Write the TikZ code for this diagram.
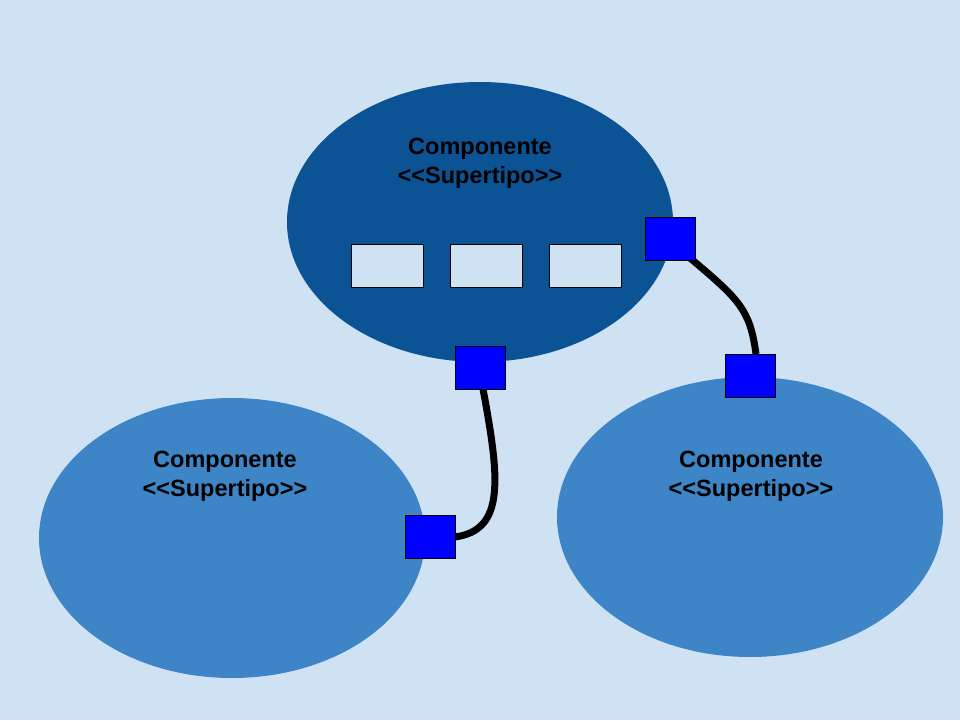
\documentclass[tikz,border=0pt]{standalone}
\usepackage{fontspec}
\usetikzlibrary{shapes.geometric}
\newfontfamily\lab{Liberation Sans}
\definecolor{bg}{HTML}{CFE2F3}
\definecolor{dark}{HTML}{0B5394}
\definecolor{mid}{HTML}{3D85C6}
\definecolor{port}{HTML}{0000FF}
\begin{document}
\begin{tikzpicture}[x=1pt,y=-1pt,
  comp/.style={ellipse, minimum width=386pt, minimum height=280pt, inner sep=0pt},
  slot/.style={draw=black, line width=1pt, fill=bg, minimum width=72pt, minimum height=43pt, inner sep=0pt},
  portbox/.style={draw=black, line width=1pt, fill=port, minimum width=50pt, minimum height=43pt, inner sep=0pt},
  lbl/.style={font=\lab\bfseries\fontsize{23.5}{29}\selectfont, align=center, text=black},
  wire/.style={line width=7pt, black}]
\useasboundingbox (0,0) rectangle (960,720);
\fill[bg] (0,0) rectangle (960,720);
\node[comp, fill=dark] (top) at (480,222) {};
\node[comp, fill=mid] (left) at (232,538) {};
\node[comp, fill=mid] (right) at (750,517) {};
\node[lbl] (tl) at (480,163) {Componente\\<<Supertipo>>};
\node[lbl] (ll) at (225,476) {Componente\\<<Supertipo>>};
\node[lbl] (rl) at (751,476) {Componente\\<<Supertipo>>};
\node[slot] (s1) at (387,265.5) {};
\node[slot] (s2) at (486,265.5) {};
\node[slot] (s3) at (585,265.5) {};
\coordinate (a1) at (483,389);
\coordinate (b1) at (455,537);
\coordinate (c1) at (690,258);
\coordinate (d1) at (756,354);
\draw[wire] (a1) .. controls (500,480) and (505,530) .. (b1);
\draw[wire] (c1) .. controls (740,300) and (750,310) .. (d1);
\node[portbox] (pa) at (480,367.5) {};
\node[portbox] (pb) at (430,537) {};
\node[portbox] (pc) at (670.5,239) {};
\node[portbox] (pd) at (750.5,375.5) {};
\end{tikzpicture}
\end{document}
